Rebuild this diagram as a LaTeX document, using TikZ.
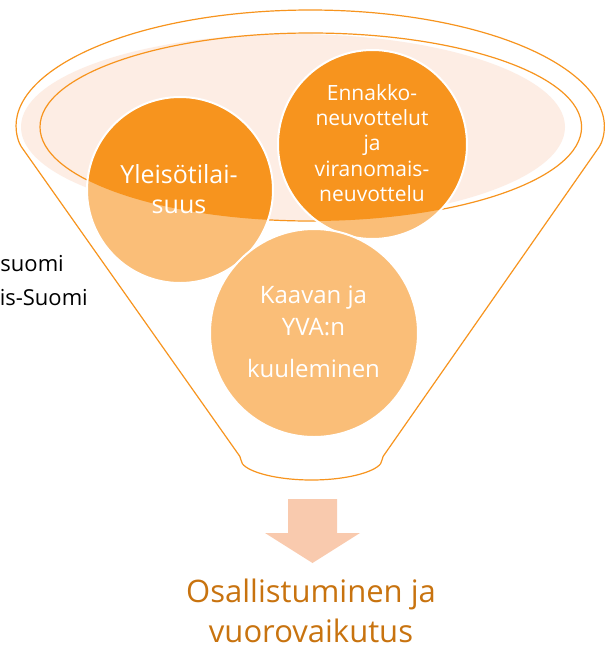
\documentclass[tikz,border=0pt]{standalone}
\usepackage{fontspec}
\setmainfont{Open Sans}
\definecolor{lineor}{HTML}{F7941E}
\definecolor{darkor}{HTML}{F7941E}
\definecolor{lightor}{HTML}{FABE78}
\definecolor{pinkc}{HTML}{FDEDE4}
\definecolor{arrowc}{HTML}{F9CAAE}
\definecolor{titlec}{HTML}{C8730F}
\tikzset{
  funnelline/.style={draw=lineor, line width=1.2pt},
  cborder/.style={draw=white, line width=2pt},
  ctext/.style={text=white, anchor=base, inner sep=0pt},
}
\begin{document}
\begin{tikzpicture}[x=1pt,y=-1pt]
\useasboundingbox (0,0) rectangle (605,649);
% funnel outline
\draw[funnelline, fill=white, rounded corners=2pt] (310.3,127) ++(171.15:293.7 and 117)
  arc[start angle=171.15, end angle=368.85, x radius=293.7, y radius=117]
  -- (382,458)
  arc[start angle=0, end angle=180, x radius=70.5, y radius=22]
  -- cycle;
% pink ellipse
\fill[pinkc] (293,127) ellipse[x radius=272, y radius=93];
% inner ellipse outline
\draw[funnelline] (310.8,127) ellipse[x radius=270.8, y radius=94];
% circle 1
\fill[lightor] (180,190) circle[radius=93];
\begin{scope}
  \clip (310.8,127) ellipse[x radius=270.8, y radius=94];
  \fill[darkor] (180,190) circle[radius=93];
\end{scope}
\draw[cborder] (180,190) circle[radius=93];
% circle 2
\fill[lightor] (372.5,144.5) circle[radius=94.5];
\begin{scope}
  \clip (310.8,127) ellipse[x radius=270.8, y radius=94];
  \fill[darkor] (372.5,144.5) circle[radius=94.5];
\end{scope}
\draw[cborder] (372.5,144.5) circle[radius=94.5];
% circle 3
\fill[lightor] (314,333) circle[radius=104];
\draw[cborder] (314,333) circle[radius=104];
% texts circle 1
\begin{scope}[font=\fontsize{25}{30}\selectfont]
\node[ctext] (y1) at (179,183) {Yleisötilai-};
\node[ctext] (y2) at (179,213) {suus};
\end{scope}
% texts circle 2
\begin{scope}[font=\fontsize{21}{25}\selectfont]
\node[ctext] (e1) at (372,100) {Ennakko-};
\node[ctext] (e2) at (372,125.5) {neuvottelut};
\node[ctext] (e3) at (372,150.5) {ja};
\node[ctext] (e4) at (372,176) {viranomais-};
\node[ctext] (e5) at (372,201.5) {neuvottelu};
\end{scope}
% texts circle 3
\begin{scope}[font=\fontsize{24}{30}\selectfont]
\node[ctext] (k1) at (313.5,303) {Kaavan ja};
\node[ctext] (k2) at (313.5,335) {YVA:n};
\node[ctext] (k3) at (313.5,377) {kuuleminen};
\end{scope}
% left cut texts
\begin{scope}[font=\fontsize{22}{26}\selectfont]
\node[anchor=base east, inner sep=0pt] (s1) at (64,271.7) {suomi};
\node[anchor=base east, inner sep=0pt] (s2) at (88,305) {is-Suomi};
\end{scope}
% arrow
\fill[arrowc] (288,499) -- (337,499) -- (337,533) -- (360,533) -- (312.5,563)
  -- (265,533) -- (288,533) -- cycle;
% bottom title
\begin{scope}[font=\fontsize{31}{40}\selectfont]
\node[anchor=base, inner sep=0pt, text=titlec] (t1) at (311,602) {Osallistuminen ja};
\node[anchor=base, inner sep=0pt, text=titlec] (t2) at (311,642.5) {vuorovaikutus};
\end{scope}
\end{tikzpicture}
\end{document}
